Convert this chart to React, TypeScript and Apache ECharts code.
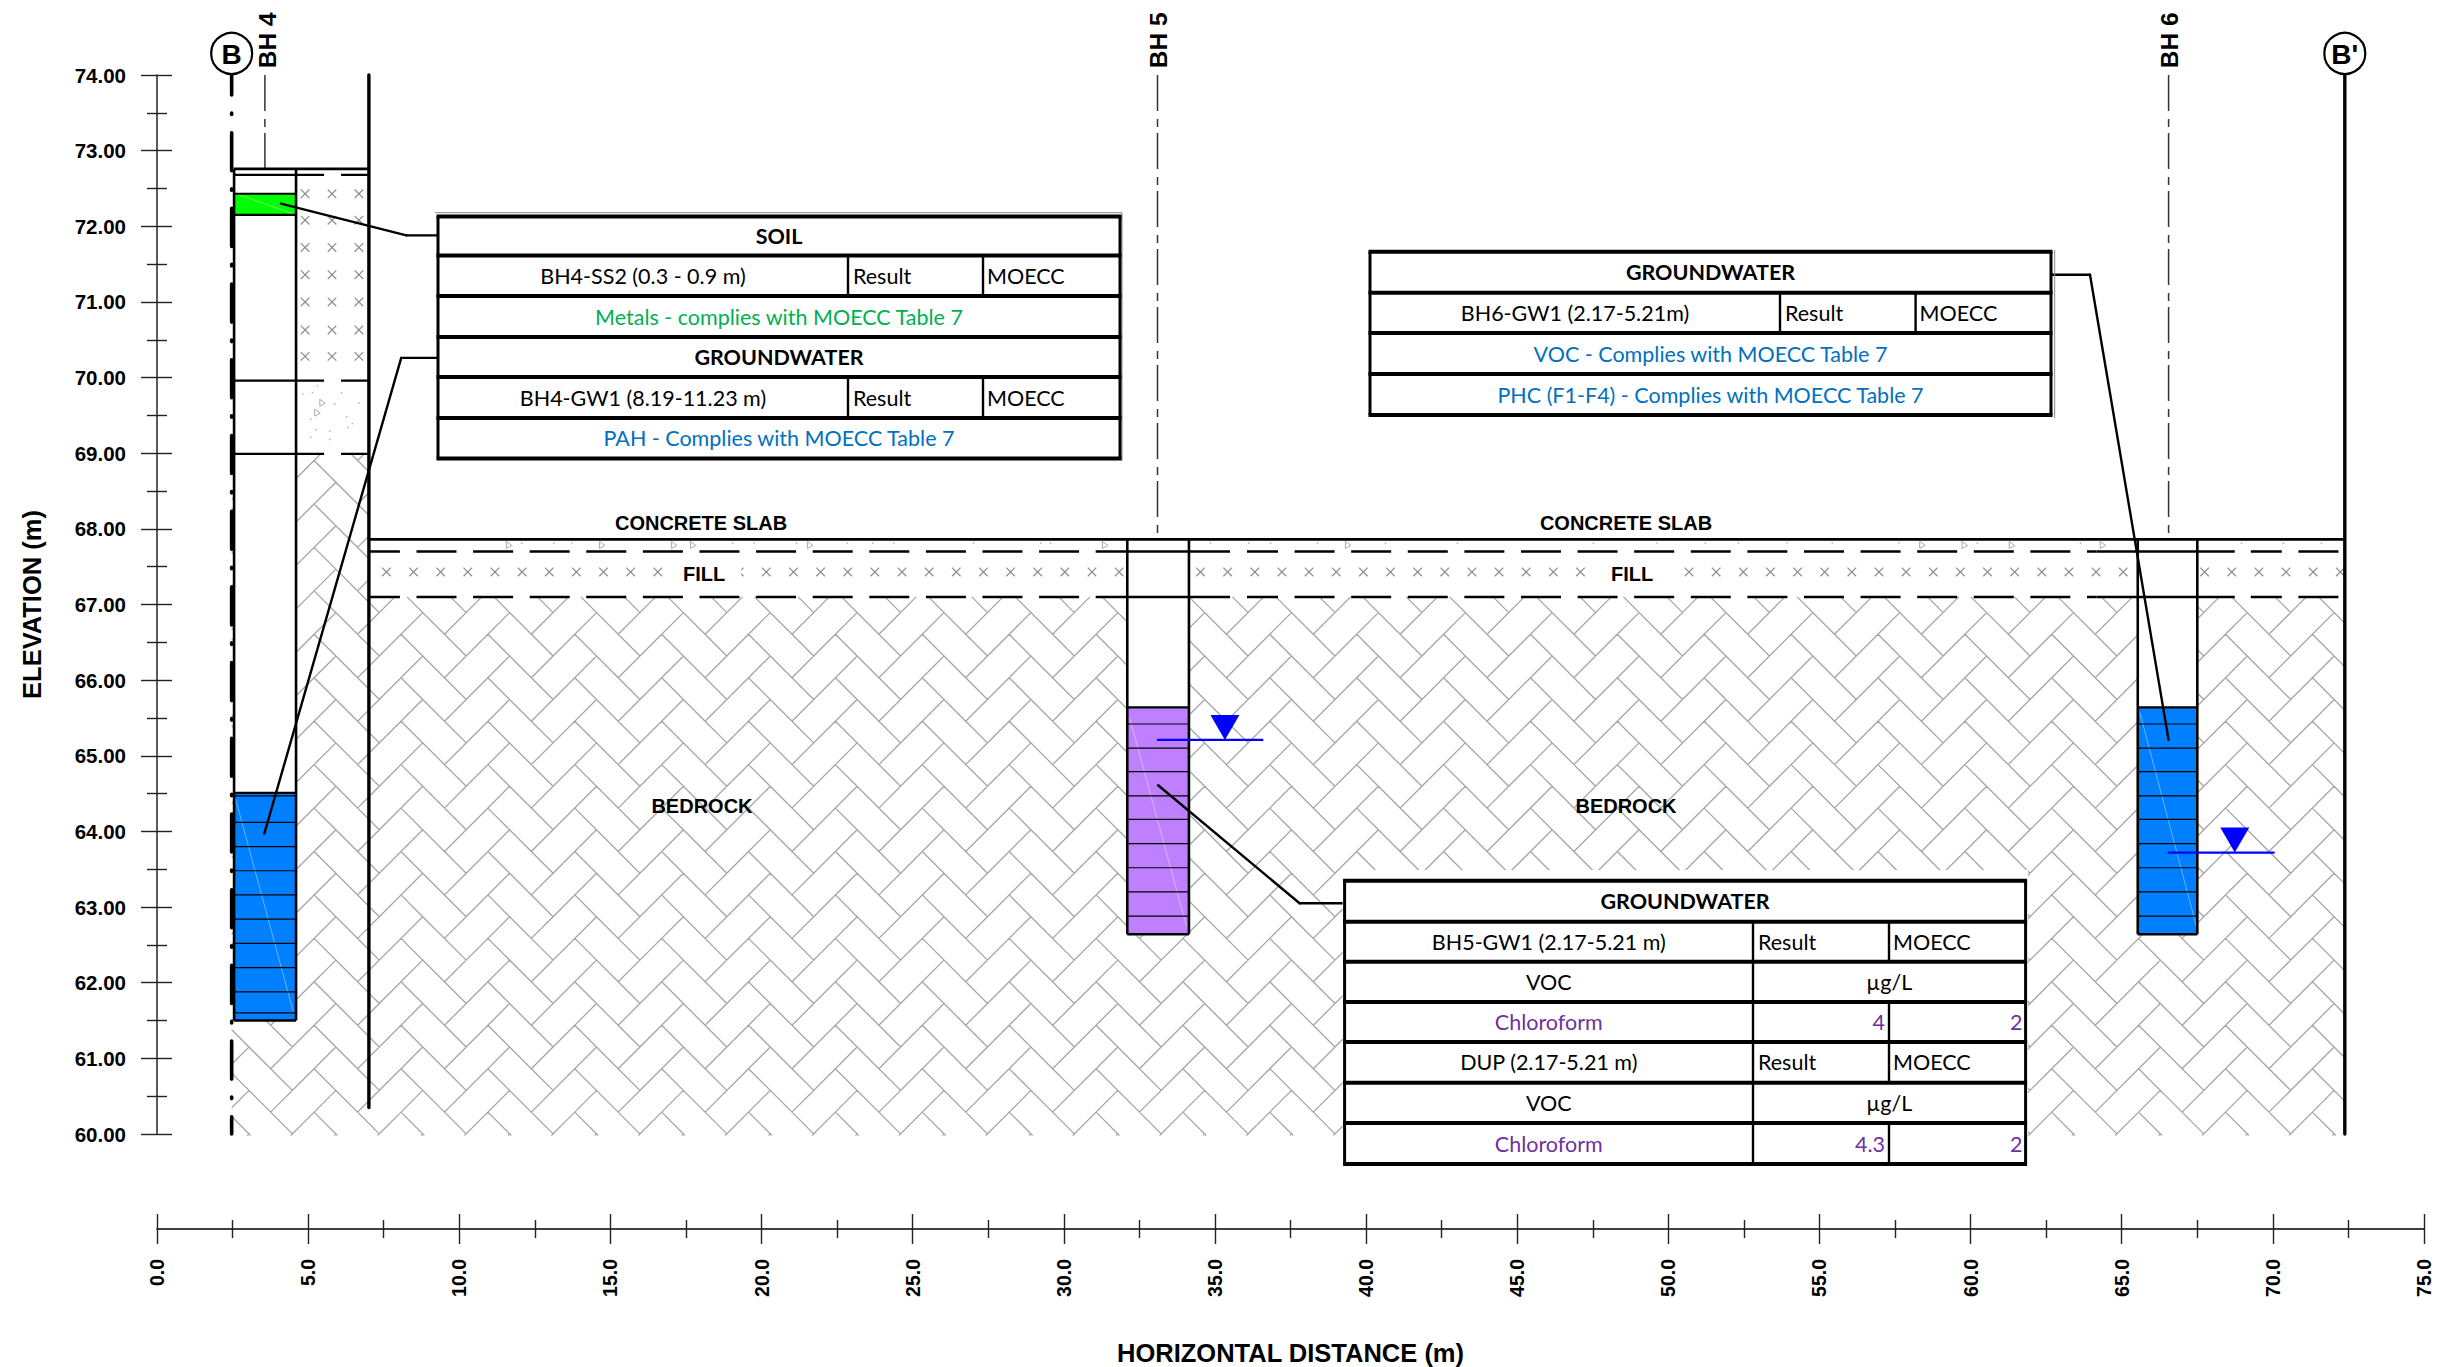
import React, { useEffect, useRef } from "react";
import * as echarts from "echarts";

// axes
const xRange = [0, 75];
const yRange = [60, 74];

// stratigraphy (elevation, m)
const bh4Surface = 72.76, bh4Slab = 72.68, bh4FillBase = 69.96, bh4NativeTop = 68.99;
const surface = 67.86, slabBase = 67.70, fillBase = 67.10;
const xWestWall = 7.01, xEast = 72.38, xWest = 2.47;

// boreholes: [left, right, top, bottom, centre]
const bh4Hole = [2.55, 4.6, bh4Surface, 61.5, 3.57];
const bh5Hole = [32.1, 34.14, surface, 62.64, 33.1];
const bh6Hole = [65.53, 67.5, surface, 62.64, 66.55];

// coloured sample intervals: [x0, y0, x1, y1]
const greenRects = [[2.55, 72.43, 4.6, 72.15]];
const blueRects = [[2.55, 64.51, 4.6, 61.5], [65.53, 65.64, 67.5, 62.64]];
const purpleRects = [[32.1, 65.64, 34.14, 62.64]];

const bh4ScreenLines = [64.47, 64.12, 63.8, 63.48, 63.16, 62.84, 62.52, 62.2, 61.88, 61.6];
const bh56ScreenLines = [65.42, 65.1, 64.79, 64.47, 64.16, 63.84, 63.52, 63.2, 62.88];

// water levels: [from x, to x, elevation, triangle x]
const waterLevels = [[33.08, 36.6, 65.21, 35.33], [66.52, 70.06, 63.72, 68.74]];

// leader lines, elevation/distance
const leaders = [
  [[4.1, 72.3], [8.25, 71.88], [9.3, 71.88]],
  [[9.3, 70.26], [8.08, 70.26], [3.55, 63.97]],
  [[62.65, 71.36], [63.95, 71.36], [66.55, 65.21]],
  [[33.12, 64.61], [37.8, 63.05], [39.3, 63.05]],
];

// labels
const holeLabels = ["BH 4", "BH 5", "BH 6"];
const holeLabelX = [3.64, 33.12, 66.57];
const sectionLabels = ["B", "B'"];
const sectionLabelX = [xWest, xEast];
const layerLabels = [
  ["CONCRETE SLAB", 18.0, 68.08], ["CONCRETE SLAB", 48.6, 68.08],
  ["BEDROCK", 18.03, 64.33], ["BEDROCK", 48.6, 64.33],
];
const fillLabels = [["FILL", 18.1, 67.4], ["FILL", 48.8, 67.4]];

// speckle read from the concrete slab and the BH4 fill band
const slabTriangles = [11.64, 14.72, 17.1, 17.73, 21.6, 31.36, 39.4, 58.4, 59.8, 61.36, 64.37];
const slabDots = [12.04, 13.1, 13.7, 19.02, 19.72, 21.14, 22.82, 23.65, 24.35, 26.99, 29.21, 29.54, 34.83, 36.09, 36.82, 38.37, 40.62, 43, 47.5, 49.6, 51.2, 52.3, 53.9, 55.4, 57.6, 60.2, 63.61, 68.94, 70.33, 71.58];
const bh4FillDots = [[4.81, 69.79], [5.12, 69.81], [5.28, 69.9], [5.86, 69.66], [6.08, 69.81], [6.66, 69.67], [5.06, 69.46], [6.25, 69.49], [6.44, 69.4], [6.29, 69.35], [5.25, 69.32], [5.69, 69.3], [5.06, 69.22], [5.69, 69.19]];
const bh4FillTriangles = [[5.47, 69.66], [5.3, 69.53]];

// lab tables
const bh4Rows = [["SOIL"], ["BH4-SS2 (0.3 - 0.9 m)", "Result", "MOECC"], ["Metals - complies with MOECC Table 7"], ["GROUNDWATER"], ["BH4-GW1 (8.19-11.23 m)", "Result", "MOECC"], ["PAH - Complies with MOECC Table 7"]];
const bh4Colors = ["#000", "#000", "#00b050", "#000", "#000", "#0070c0"];
const bh6Rows = [["GROUNDWATER"], ["BH6-GW1 (2.17-5.21m)", "Result", "MOECC"], ["VOC - Complies with MOECC Table 7"], ["PHC (F1-F4) - Complies with MOECC Table 7"]];
const bh6Colors = ["#000", "#000", "#0070c0", "#0070c0"];
const bh5Rows = [["GROUNDWATER"], ["BH5-GW1 (2.17-5.21 m)", "Result", "MOECC"], ["VOC", "µg/L"], ["Chloroform", "4", "2"], ["DUP (2.17-5.21 m)", "Result", "MOECC"], ["VOC", "µg/L"], ["Chloroform", "4.3", "2"]];
const bh5Colors = ["#000", "#000", "#000", "#7030a0", "#000", "#000", "#7030a0"];

const SANS = "'Liberation Sans', Arial, sans-serif";
const TABLE_FONT = "Lato, 'Noto Sans', sans-serif";
const HATCH = "#a6a6a6";
const BLACK = "#000";

const base = (name: string, data: any[], z: number, renderItem: any) => ({
  type: "custom", name, coordinateSystem: "cartesian2d", clip: false, silent: true, z, data, renderItem,
});

const segSeries = (name: string, segs: number[][], style: any, z: number) =>
  base(name, segs, z, (_: any, api: any) => {
    const a = api.coord([api.value(0), api.value(1)]);
    const b = api.coord([api.value(2), api.value(3)]);
    return { type: "line", shape: { x1: a[0], y1: a[1], x2: b[0], y2: b[1] }, style: { fill: "none", ...style } };
  });

const rectSeries = (name: string, rects: number[][], fill: string, z: number) =>
  base(name, rects, z, (_: any, api: any) => {
    const a = api.coord([api.value(0), api.value(1)]);
    const b = api.coord([api.value(2), api.value(3)]);
    return { type: "rect", shape: { x: a[0], y: a[1], width: b[0] - a[0], height: b[1] - a[1] }, style: { fill } };
  });

// Liang-Barsky clip of one segment against a pixel rectangle
function clip(x0: number, y0: number, x1: number, y1: number, r: number[]) {
  let t0 = 0, t1 = 1;
  const dx = x1 - x0, dy = y1 - y0;
  const tests = [[-dx, x0 - r[0]], [dx, r[2] - x0], [-dy, y0 - r[1]], [dy, r[3] - y0]];
  for (const [p, q] of tests) {
    if (p === 0) { if (q < 0) return null; continue; }
    const t = q / p;
    if (p < 0) { if (t > t1) return null; if (t > t0) t0 = t; }
    else { if (t < t0) return null; if (t < t1) t1 = t; }
  }
  return [x0 + t0 * dx, y0 + t0 * dy, x0 + t1 * dx, y0 + t1 * dy];
}

// herringbone bedrock, drawn in two clipped regions given in data units
const bedrockRegions = [[xWest, bh4NativeTop, xWestWall, 59.98], [xWestWall, fillBase, xEast, 59.98]];
const bedrockSeries = base("bedrock", [[0, 60]], 1, (_: any, api: any) => {
  const a = 21.72;
  const phaseX = 2008.3, phaseY = 634.3;
  let d = "";
  for (const reg of bedrockRegions) {
    const p0 = api.coord([reg[0], reg[1]]);
    const p1 = api.coord([reg[2], reg[3]]);
    const r = [p0[0], p0[1], p1[0], p1[1]];
    const iMin = Math.floor((r[0] - phaseX) / (4 * a)) - 2;
    const iMax = Math.ceil((r[2] - phaseX) / (4 * a)) + 1;
    const jMin = Math.floor((r[1] - phaseY) / (2 * a)) - 3;
    const jMax = Math.ceil((r[3] - phaseY) / (2 * a)) + 3;
    for (let i = iMin; i <= iMax; i++) {
      for (let j = jMin; j <= jMax; j++) {
        const px = phaseX + i * 4 * a, py = phaseY + j * 2 * a;
        const qx = px + 2 * a, qy = py;
        const brickA = [[px, py], [px + 2 * a, py - 2 * a], [px + 3 * a, py - a], [px + a, py + a]];
        const brickB = [[qx, qy], [qx + a, qy - a], [qx + 3 * a, qy + a], [qx + 2 * a, qy + 2 * a]];
        for (const brick of [brickA, brickB]) {
          for (let k = 0; k < 4; k++) {
            const s = brick[k], e = brick[(k + 1) % 4];
            const c = clip(s[0], s[1], e[0], e[1], r);
            if (c) d += `M${c[0].toFixed(1)} ${c[1].toFixed(1)}L${c[2].toFixed(1)} ${c[3].toFixed(1)}`;
          }
        }
      }
    }
  }
  return { type: "path", shape: { pathData: d }, style: { fill: "none", stroke: HATCH, lineWidth: 1.3 } };
});

// grey crosses of the fill band
const bh4CrossX = [4.9, 5.79, 6.68];
const bh4CrossY = [72.43, 72.08, 71.72, 71.36, 71.0, 70.63, 70.28];
const fillCrossY = [67.43];
const fillCrossX: number[] = [];
for (let v = 9.385 - 2 * 0.8978; v < 72.33; v += 0.8978) fillCrossX.push(v);
const crossPoints: number[][] = [];
bh4CrossX.forEach((x) => bh4CrossY.forEach((y) => crossPoints.push([x, y])));
fillCrossX.forEach((x) => fillCrossY.forEach((y) => crossPoints.push([x, y])));
const crossSeries = base("fill crosses", crossPoints, 2, (_: any, api: any) => {
  const c = api.coord([api.value(0), api.value(1)]);
  const h = 4.3;
  return {
    type: "group",
    children: [
      { type: "line", shape: { x1: c[0] - h, y1: c[1] - h, x2: c[0] + h, y2: c[1] + h }, style: { stroke: "#8c8c8c", lineWidth: 1.2 } },
      { type: "line", shape: { x1: c[0] - h, y1: c[1] + h, x2: c[0] + h, y2: c[1] - h }, style: { stroke: "#8c8c8c", lineWidth: 1.2 } },
    ],
  };
});

const triSpeck = (c: number[]) => ({
  type: "polygon",
  shape: { points: [[c[0] - 2.5, c[1] - 4], [c[0] + 3, c[1]], [c[0] - 2.5, c[1] + 3]] },
  style: { fill: "none", stroke: "#aaa", lineWidth: 1 },
});
const speckSeries = [
  base("slab triangles", slabTriangles.map((x) => [x, 67.78]), 2, (_: any, api: any) => triSpeck(api.coord([api.value(0), api.value(1)]))),
  base("fill triangles", bh4FillTriangles, 2, (_: any, api: any) => triSpeck(api.coord([api.value(0), api.value(1)]))),
  base("dots", [...slabDots.map((x) => [x, 67.82]), ...bh4FillDots], 2, (_: any, api: any) => {
    const c = api.coord([api.value(0), api.value(1)]);
    return { type: "rect", shape: { x: c[0], y: c[1], width: 1.4, height: 1.4 }, style: { fill: "#aaa" } };
  }),
];

const holes = [bh4Hole, bh5Hole, bh6Hole];
const holeWhite = holes.map((h) => [h[0], h[2], h[1], h[3]]);
const holeWalls = holes.flatMap((h) => [[h[0], h[2], h[0], h[3]], [h[1], h[2], h[1], h[3]]]);
const holeBottoms = holes.map((h) => [h[0], h[3], h[1], h[3]]);
const holeCentres = holes.map((h) => [h[4], 74, h[4], h[2]]);

const screenLines = [
  ...bh4ScreenLines.map((y) => [bh4Hole[0], y, bh4Hole[1], y]),
  ...bh56ScreenLines.map((y) => [bh5Hole[0], y, bh5Hole[1], y]),
  ...bh56ScreenLines.map((y) => [bh6Hole[0], y, bh6Hole[1], y]),
];
const intervalTops = [
  [bh4Hole[0], 64.51, bh4Hole[1], 64.51], [bh5Hole[0], 65.64, bh5Hole[1], 65.64], [bh6Hole[0], 65.64, bh6Hole[1], 65.64],
  [bh4Hole[0], 72.43, bh4Hole[1], 72.43], [bh4Hole[0], 72.15, bh4Hole[1], 72.15],
];
const ghostDiagonals = [[2.6, 64.43, 4.5, 61.63], [32.18, 65.5, 34.07, 62.73], [65.6, 65.57, 67.48, 62.73], [2.6, 72.43, 4.55, 72.16]];

const dashedLayers = [slabBase, fillBase].flatMap((y) => [[xWestWall, y, 31.13, y], [36.06, y, 64.17, y], [69.27, y, xEast, y]]);
const solidLayers = [slabBase, fillBase].flatMap((y) => [[31.13, y, 35.5, y], [64.17, y, 68.74, y]]);
const bh4Layers = [bh4Slab, bh4FillBase, bh4NativeTop].map((y) => [bh4Hole[0], y, xWestWall, y]);

const leaderSegs = leaders.flatMap((l) => l.slice(1).map((p, i) => [l[i][0], l[i][1], p[0], p[1]]));

const textSeries = (name: string, items: any[][], font: any, z: number) =>
  base(name, items.map((t) => [t[1], t[2]]), z, (p: any, api: any) => {
    const c = api.coord([api.value(0), api.value(1)]);
    return { type: "text", style: { text: items[p.dataIndex][0], x: c[0], y: c[1], align: "center", verticalAlign: "middle", ...font } };
  });

const series: any[] = [
  bedrockSeries,
  crossSeries,
  ...speckSeries,
  rectSeries("hole void", holeWhite, "#fff", 3),
  rectSeries("soil sample", greenRects, "#00ff00", 4),
  rectSeries("groundwater blue", blueRects, "#0080ff", 4),
  rectSeries("groundwater purple", purpleRects, "#bf80ff", 4),
  segSeries("screen diagonals", ghostDiagonals, { stroke: "rgba(255,255,255,0.4)", lineWidth: 1 }, 5),
  segSeries("screen lines", screenLines, { stroke: BLACK, lineWidth: 1.2 }, 5),
  segSeries("interval tops", intervalTops, { stroke: BLACK, lineWidth: 2.2 }, 5),
  segSeries("layer dashes", dashedLayers, { stroke: BLACK, lineWidth: 2.4, lineDash: [40, 16.6], lineDashOffset: 9 }, 6),
  segSeries("layer solids", solidLayers, { stroke: BLACK, lineWidth: 2.4 }, 6),
  segSeries("bh4 layers", bh4Layers, { stroke: BLACK, lineWidth: 2.2, lineDash: [90, 17, 40, 0] }, 6),
  segSeries("hole walls", holeWalls, { stroke: BLACK, lineWidth: 2.6 }, 7),
  segSeries("hole bottoms", holeBottoms, { stroke: BLACK, lineWidth: 2.6 }, 7),
  segSeries("ground", [[xWestWall, surface, xEast + 0.03, surface], [bh4Hole[0], bh4Surface, xWestWall, bh4Surface]], { stroke: BLACK, lineWidth: 2.8 }, 7),
  segSeries("centre lines", holeCentres, { stroke: "#333", lineWidth: 1.5, lineDash: [36, 8, 8, 6] }, 6),
  segSeries("section B", [[xWest, 74, xWest, 60]], { stroke: BLACK, lineWidth: 3.6, lineCap: "round", lineDash: [38, 18, 1.5, 18.2], lineDashOffset: 18 }, 6),
  segSeries("section walls", [[xWestWall, 74, xWestWall, 60.35], [xEast, 74, xEast, 60]], { stroke: BLACK, lineWidth: 3.4, lineCap: "round" }, 7),
  segSeries("water lines", waterLevels.map((w) => [w[0], w[2], w[1], w[2]]), { stroke: "#0000ff", lineWidth: 2.2 }, 8),
  base("water triangles", waterLevels.map((w) => [w[3], w[2]]), 8, (_: any, api: any) => {
    const c = api.coord([api.value(0), api.value(1)]);
    return { type: "polygon", shape: { points: [[c[0] - 14.5, c[1] - 25], [c[0] + 14.5, c[1] - 25], [c[0], c[1]]] }, style: { fill: "#0000ff" } };
  }),
  segSeries("leaders", leaderSegs, { stroke: BLACK, lineWidth: 2.4, lineCap: "round" }, 9),
  textSeries("layer labels", layerLabels, { fontFamily: SANS, fontWeight: "bold", fontSize: 20, fill: "#000" }, 8),
  base("fill labels", fillLabels.map((t) => [t[1], t[2]]), 8, (p: any, api: any) => {
    const c = api.coord([api.value(0), api.value(1)]);
    return { type: "group", children: [
      { type: "rect", shape: { x: c[0] - 37, y: c[1] - 11, width: 74, height: 22 }, style: { fill: "#fff" } },
      { type: "text", style: { text: fillLabels[p.dataIndex][0], x: c[0], y: c[1], align: "center", verticalAlign: "middle", fontFamily: SANS, fontWeight: "bold", fontSize: 20, fill: "#000" } },
    ] };
  }),
  base("hole labels", holeLabelX.map((x) => [x, 74.09]), 8, (p: any, api: any) => {
    const c = api.coord([api.value(0), api.value(1)]);
    return { type: "text", x: c[0], y: c[1], rotation: Math.PI / 2, style: { text: holeLabels[p.dataIndex], x: 0, y: 0, align: "left", verticalAlign: "middle", fontFamily: SANS, fontWeight: "bold", fontSize: 24.5, fill: "#000" } };
  }),
  base("section bubbles", sectionLabelX.map((x) => [x, 74.285]), 8, (p: any, api: any) => {
    const c = api.coord([api.value(0), api.value(1)]);
    return { type: "group", children: [
      { type: "circle", shape: { cx: c[0], cy: c[1], r: 20.5 }, style: { fill: "#fff", stroke: BLACK, lineWidth: 2.2 } },
      { type: "text", style: { text: sectionLabels[p.dataIndex], x: c[0], y: c[1] + 1, align: "center", verticalAlign: "middle", fontFamily: SANS, fontWeight: "bold", fontSize: 28, fill: "#000" } },
    ] };
  }),
];

function tableElements(x0: number, x1: number, cols: number[], ys: number[], rows: string[][], colors: string[]) {
  const els: any[] = [];
  const z = 40;
  const line = (xa: number, ya: number, xb: number, yb: number, w: number) =>
    els.push({ type: "line", z: z + 1, shape: { x1: xa, y1: ya, x2: xb, y2: yb }, style: { stroke: BLACK, lineWidth: w } });
  const text = (t: string, x: number, y: number, align: string, color: string, bold: boolean) =>
    els.push({ type: "text", z: z + 2, style: { text: t, x, y, align, verticalAlign: "middle", fontFamily: TABLE_FONT, fontSize: 21.5, fontWeight: bold ? "bold" : "normal", fill: color } });
  els.push({ type: "rect", z, shape: { x: x0, y: ys[0], width: x1 - x0, height: ys[ys.length - 1] - ys[0] }, style: { fill: "#fff" } });
  ys.forEach((y) => line(x0 - 1.5, y, x1 + 1.5, y, 4));
  line(x0, ys[0], x0, ys[ys.length - 1], 3);
  line(x1, ys[0], x1, ys[ys.length - 1], 3);
  rows.forEach((row, i) => {
    const cy = (ys[i] + ys[i + 1]) / 2;
    const c = colors[i];
    if (row.length === 1) {
      text(row[0], (x0 + x1) / 2, cy, "center", c, c === "#000");
    } else if (row.length === 2) {
      line(cols[0], ys[i], cols[0], ys[i + 1], 2.4);
      text(row[0], (x0 + cols[0]) / 2, cy, "center", c, false);
      text(row[1], (cols[0] + x1) / 2, cy, "center", c, false);
    } else {
      line(cols[0], ys[i], cols[0], ys[i + 1], 2.4);
      line(cols[1], ys[i], cols[1], ys[i + 1], 2.4);
      text(row[0], (x0 + cols[0]) / 2, cy, "center", c, false);
      const numeric = row[1] !== "Result";
      text(row[1], numeric ? cols[1] - 4 : cols[0] + 5, cy, numeric ? "right" : "left", c, false);
      text(row[2], numeric ? x1 - 3 : cols[1] + 4, cy, numeric ? "right" : "left", c, false);
    }
  });
  return els;
}

const ghost = (x1: number, y1: number, x2: number, y2: number) =>
  ({ type: "line", z: 39, shape: { x1, y1, x2, y2 }, style: { stroke: "#888", lineWidth: 1 } });

const graphicElements: any[] = [
  ghost(435, 212.7, 1122, 212.7),
  ghost(1122, 212.7, 1122, 461),
  ...tableElements(438, 1120, [848, 983], [216.5, 255.5, 296, 337, 377, 418, 458.5], bh4Rows, bh4Colors),
  ghost(2054.7, 250, 2054.7, 418),
  ...tableElements(1370, 2051, [1780, 1915.6], [251.7, 292.7, 333, 374, 415], bh6Rows, bh6Colors),
  { type: "rect", z: 39, shape: { x: 1342.6, y: 870, width: 685.4, height: 305 }, style: { fill: "#fff" } },
  ...tableElements(1344.6, 2025.6, [1753, 1889], [880.7, 921.7, 961.7, 1002, 1042, 1082.7, 1123, 1164], bh5Rows, bh5Colors),
];

const xBase = { type: "value", position: "bottom", min: xRange[0], max: xRange[1], interval: 5, offset: 95, splitLine: { show: false } };
const yBase = { type: "value", position: "left", min: yRange[0], max: yRange[1], interval: 1, splitLine: { show: false } };

const option: any = {
  animation: false,
  backgroundColor: "#fff",
  grid: { left: 157, right: 13, top: 75, bottom: 233, containLabel: false, outerBoundsMode: "none" },
  xAxis: [
    {
      ...xBase,
      name: "HORIZONTAL DISTANCE (m)", nameLocation: "middle", nameGap: 111,
      nameTextStyle: { fontFamily: SANS, fontWeight: "bold", fontSize: 25.5, color: "#000" },
      axisLine: { show: true, lineStyle: { color: "#000", width: 1.6 } },
      axisTick: { show: true, length: 15, lineStyle: { color: "#222", width: 1.4 } },
      minorTick: { show: true, splitNumber: 2, length: 9, lineStyle: { color: "#222", width: 1.4 } },
      axisLabel: { fontFamily: SANS, fontWeight: "bold", fontSize: 19.5, color: "#000", rotate: 90, margin: 30, formatter: (v: number) => v.toFixed(1) },
    },
    {
      ...xBase,
      axisLine: { show: false },
      axisTick: { show: true, inside: true, length: 15, lineStyle: { color: "#222", width: 1.4 } },
      minorTick: { show: true, splitNumber: 2, length: 9, lineStyle: { color: "#222", width: 1.4 } },
      axisLabel: { show: false },
    },
  ],
  yAxis: [
    {
      ...yBase,
      name: "ELEVATION (m)", nameLocation: "middle", nameGap: 112,
      nameTextStyle: { fontFamily: SANS, fontWeight: "bold", fontSize: 25.5, color: "#000" },
      axisLine: { show: true, lineStyle: { color: "#333", width: 1.6 } },
      axisTick: { show: true, length: 16, lineStyle: { color: "#222", width: 1.4 } },
      minorTick: { show: true, splitNumber: 2, length: 10, lineStyle: { color: "#222", width: 1.4 } },
      axisLabel: { fontFamily: SANS, fontWeight: "bold", fontSize: 20.5, color: "#000", margin: 31, formatter: (v: number) => v.toFixed(2) },
    },
    {
      ...yBase,
      axisLine: { show: false },
      axisTick: { show: true, inside: true, length: 15, lineStyle: { color: "#222", width: 1.4 } },
      minorTick: { show: true, splitNumber: 2, length: 10, lineStyle: { color: "#222", width: 1.4 } },
      axisLabel: { show: false },
    },
  ],
  graphic: { elements: graphicElements },
  series,
};

export default function App() {
  const ref = useRef<HTMLDivElement>(null);
  useEffect(() => {
    if (!ref.current) return;
    const chart = echarts.init(ref.current, undefined, { renderer: "svg" });
    chart.setOption(option);
    return () => chart.dispose();
  }, []);
  return <div ref={ref} style={{ position: "absolute", left: 0, top: 0, width: 2437, height: 1367 }} />;
}
